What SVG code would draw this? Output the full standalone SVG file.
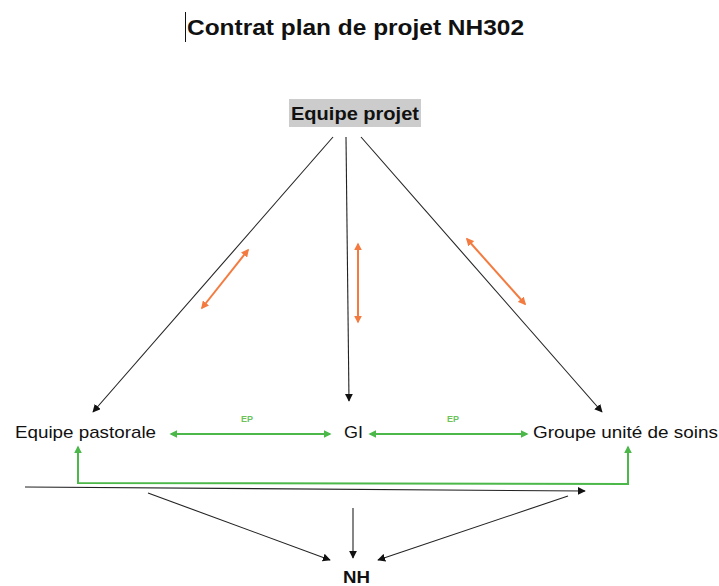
<svg xmlns="http://www.w3.org/2000/svg" width="719" height="586" viewBox="0 0 719 586">
<style>
text{font-family:"Liberation Sans",Arial,sans-serif;fill:#111}
.b{font-weight:bold}
.blk{stroke:#222;stroke-width:1.1;fill:none}
.org{stroke:#f47b3f;stroke-width:2;fill:none}
.grn{stroke:#4cb84a;stroke-width:2;fill:none}
.ep{font-size:9px;font-weight:bold;fill:#6cc35a}
</style>
<defs>
<marker id="ab" viewBox="0 0 10 10" refX="9" refY="5" markerWidth="8" markerHeight="8" markerUnits="userSpaceOnUse" orient="auto"><path d="M0,0L10,5L0,10z" fill="#111"/></marker>
<marker id="ao" viewBox="0 0 10 10" refX="8" refY="5" markerWidth="4" markerHeight="4" orient="auto-start-reverse"><path d="M0,0L10,5L0,10z" fill="#f47b3f"/></marker>
<marker id="ag" viewBox="0 0 10 10" refX="8" refY="5" markerWidth="4" markerHeight="4" orient="auto-start-reverse"><path d="M0,0L10,5L0,10z" fill="#4cb84a"/></marker>
</defs>
<rect width="719" height="586" fill="#fff"/>
<line x1="185.5" y1="12" x2="185.5" y2="42" stroke="#111" stroke-width="1"/>
<text x="187" y="35" class="b" font-size="22" textLength="337" lengthAdjust="spacingAndGlyphs">Contrat plan de projet NH302</text>
<g id="equipe-projet">
<rect x="289" y="99" width="132" height="28" fill="#cccccc"/>
<text x="355" y="120" class="b" font-size="18" text-anchor="middle" textLength="128" lengthAdjust="spacingAndGlyphs">Equipe projet</text>
</g>
<g id="equipe-pastorale"><text x="15" y="438" font-size="17" textLength="141" lengthAdjust="spacingAndGlyphs">Equipe pastorale</text></g>
<g id="gi"><text x="344" y="438" font-size="17" textLength="19" lengthAdjust="spacingAndGlyphs">GI</text></g>
<g id="groupe-unite"><text x="533" y="438" font-size="17" textLength="185" lengthAdjust="spacingAndGlyphs">Groupe unité de soins</text></g>
<g id="nh"><text x="343" y="583" class="b" font-size="17" textLength="27" lengthAdjust="spacingAndGlyphs">NH</text></g>
<g id="connectors">
<line class="blk" x1="333" y1="137" x2="93" y2="412" marker-end="url(#ab)"/>
<line class="blk" x1="346" y1="137" x2="349" y2="401" marker-end="url(#ab)"/>
<line class="blk" x1="361" y1="137" x2="602" y2="412" marker-end="url(#ab)"/>
<line class="org" x1="248" y1="250" x2="202" y2="308" marker-start="url(#ao)" marker-end="url(#ao)"/>
<line class="org" x1="358" y1="244" x2="358" y2="322" marker-start="url(#ao)" marker-end="url(#ao)"/>
<line class="org" x1="467" y1="239" x2="525" y2="304" marker-start="url(#ao)" marker-end="url(#ao)"/>
<line class="grn" x1="171" y1="434" x2="330" y2="434" marker-start="url(#ag)" marker-end="url(#ag)"/>
<line class="grn" x1="370" y1="434" x2="527" y2="434" marker-start="url(#ag)" marker-end="url(#ag)"/>
<text x="247" y="422" class="ep" text-anchor="middle">EP</text>
<text x="453" y="422" class="ep" text-anchor="middle">EP</text>
<polyline class="grn" points="78,447 78,483 628,484 628,447" marker-start="url(#ag)" marker-end="url(#ag)"/>
<line class="blk" x1="25" y1="487" x2="585" y2="491" marker-end="url(#ab)"/>
<line class="blk" x1="148" y1="493" x2="330" y2="560" marker-end="url(#ab)"/>
<line class="blk" x1="353" y1="508" x2="353" y2="558" marker-end="url(#ab)"/>
<line class="blk" x1="568" y1="496" x2="378" y2="560" marker-end="url(#ab)"/>
</g>
</svg>
